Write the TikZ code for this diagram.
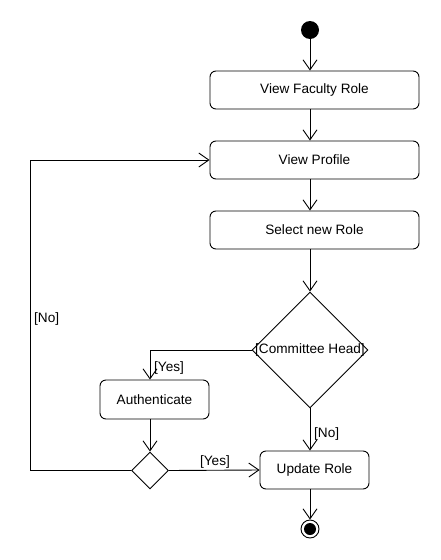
\documentclass[tikz,border=0pt]{standalone}
\usepackage{fontspec}
\setmainfont{Liberation Sans}
\usetikzlibrary{shapes.geometric,arrows.meta}
\begin{document}
\begin{tikzpicture}[x=1pt,y=-1pt,
  every node/.style={font=\fontsize{13.6}{16}\selectfont},
  act/.style={draw, rounded corners=6pt, line width=0.9pt, minimum width=209pt, minimum height=38pt, inner sep=0pt},
  sact/.style={act, minimum width=109pt},
  dia/.style={draw, diamond, aspect=1, inner sep=0pt, line width=0.9pt},
  arr/.style={draw, line width=0.9pt, -{Straight Barb[length=10pt,width=14pt,line width=0.9pt]}},
  lbl/.style={inner sep=1pt}]
\useasboundingbox (0,0) rectangle (440,560);
\node[circle, fill=black, minimum size=18pt, inner sep=0pt] (start) at (310,30) {};
\node[act] (vfr) at (314.5,90) {View Faculty Role};
\node[act] (vp) at (314.5,160) {View Profile};
\node[act] (snr) at (314.5,230) {Select new Role};
\node[dia, minimum width=116pt, minimum height=116pt, label={center:{[Committee Head]}}] (dec) at (310,350) {};
\node[sact, minimum height=39pt] (auth) at (154.5,399.5) {Authenticate};
\node[dia, minimum width=37pt, minimum height=37pt] (sd) at (150,470.5) {};
\node[sact] (upd) at (314.5,470) {Update Role};
\node[circle, draw, line width=0.9pt, minimum size=18pt, inner sep=0pt,
  path picture={\fill (path picture bounding box.center) circle (6pt);}] (end) at (310,529) {};
\coordinate (loop) at (30,470.5);
\draw[arr] (start) -- (start |- vfr.north);
\draw[arr] (vfr.south -| start) -- (vp.north -| start);
\draw[arr] (vp.south -| start) -- (snr.north -| start);
\draw[arr] (snr.south -| start) -- (dec.north);
\draw[arr] (dec.west) -| (sd |- auth.north);
\node[lbl, anchor=west] (lyes1) at (153,368) {[Yes]};
\draw[arr] (auth.south -| sd) -- (sd.north);
\draw[arr] (sd.east) -- (upd.west);
\node[lbl] (lyes2) at (215,462) {[Yes]};
\draw[arr] (sd.west) -- (loop) |- (vp.west);
\node[lbl, anchor=west] (lno1) at (33,319) {[No]};
\draw[arr] (dec.south) -- (upd.north -| dec);
\node[lbl, anchor=west] (lno2) at (313,434) {[No]};
\draw[arr] (upd.south -| start) -- (end);
\end{tikzpicture}
\end{document}
